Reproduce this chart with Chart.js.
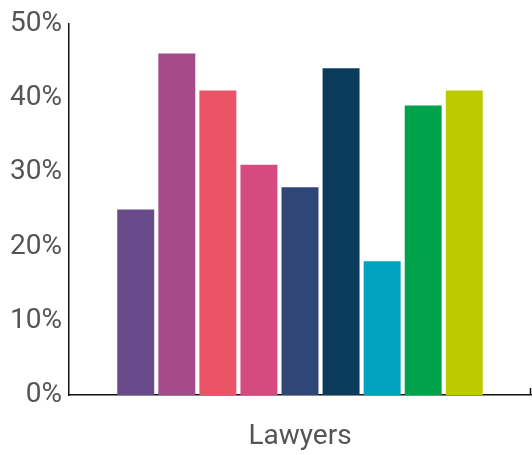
<!DOCTYPE html>
<html>
<head>
<meta charset="utf-8">
<script src="https://cdn.jsdelivr.net/npm/chart.js@4/dist/chart.umd.min.js"></script>
<style>
  html, body { margin: 0; padding: 0; background: #fff; }
  #wrap { width: 532px; height: 455px; }
</style>
</head>
<body>
<div id="wrap"><canvas id="barChart"></canvas></div>
<script>
var categories = ['Lawyers'];
var seriesNames = ['A', 'B', 'C', 'D', 'E', 'F', 'G', 'H', 'I'];
var seriesValues = [25, 46, 41, 31, 28, 44, 18, 39, 41];
var seriesColors = ['#694a8b', '#a64a8b', '#ea5466', '#d64a82', '#2f4677', '#0b3b5b', '#00a1c1', '#00a34b', '#bccb00'];
var yTicks = [0, 10, 20, 30, 40, 50];

// small upward tick at the right end of the x axis
var endTick = {
    id: 'endTick',
    afterDraw: function (chart) {
        var a = chart.chartArea;
        var c = chart.ctx;
        c.save();
        c.strokeStyle = '#111';
        c.lineWidth = 1.5;
        c.beginPath();
        c.moveTo(a.right - 0.5, a.bottom);
        c.lineTo(a.right - 0.5, a.bottom - 7);
        c.stroke();
        c.restore();
    }
};

var ctx = document.getElementById('barChart').getContext('2d');
var myChart = new Chart(ctx, {
    type: 'bar',
    data: {
        labels: categories,
        datasets: seriesNames.map(function (name, i) {
            return {
                label: name,
                data: [seriesValues[i]],
                backgroundColor: seriesColors[i],
                borderWidth: 0,
                categoryPercentage: 0.8,
                barPercentage: 0.9
            };
        })
    },
    plugins: [endTick],
    options: {
        responsive: true,
        maintainAspectRatio: false,
        animation: false,
        layout: { padding: { top: 22, right: 1, left: 0, bottom: 0 } },
        plugins: {
            legend: { display: false },
            tooltip: { enabled: false }
        },
        scales: {
            x: {
                grid: { display: false, drawTicks: false },
                border: { display: true, color: '#111', width: 1.5 },
                ticks: {
                    color: '#555',
                    padding: 25,
                    font: { family: 'Roboto', size: 28 }
                },
                afterFit: function (s) { s.height = 60; }
            },
            y: {
                min: 0,
                max: 50,
                grid: { display: false, drawTicks: false },
                border: { display: true, color: '#111', width: 1.5 },
                afterBuildTicks: function (s) {
                    s.ticks = yTicks.map(function (v) { return { value: v }; });
                },
                ticks: {
                    color: '#555',
                    padding: 7,
                    font: { family: 'Roboto', size: 28 },
                    callback: function (v) { return v + '%'; }
                },
                afterFit: function (s) { s.width = 69; }
            }
        }
    }
});
</script>
</body>
</html>
